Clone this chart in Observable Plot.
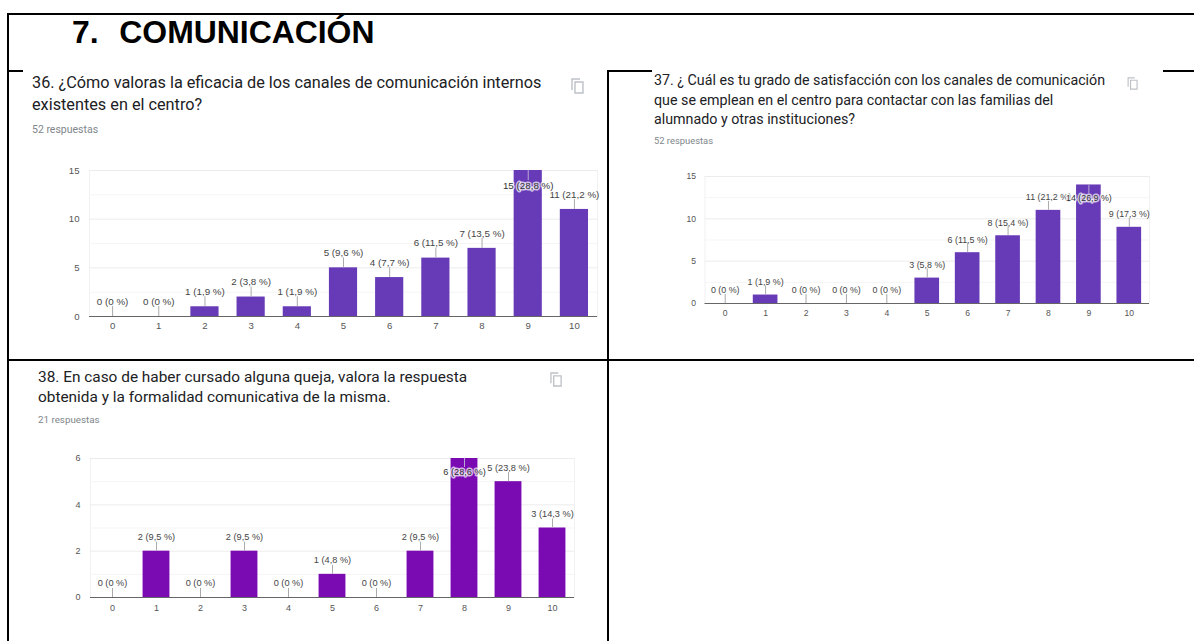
<!DOCTYPE html>
<html lang="es">
<head>
<meta charset="utf-8">
<title>7. Comunicación</title>
<script src="https://cdn.jsdelivr.net/npm/d3@7"></script>
<script src="https://cdn.jsdelivr.net/npm/@observablehq/plot@0.6"></script>
<style>
  html, body { margin: 0; padding: 0; background: #fff; }
  #page { position: relative; width: 1194px; height: 641px; overflow: hidden; background: #fff; }
  .line { position: absolute; background: #000; }
  .t { position: absolute; white-space: nowrap; font-family: Roboto, sans-serif; color: #202124; }
  .sub { color: #80868b; }
  .chart { position: absolute; }
  .chart svg { overflow: visible; display: block; background: transparent; }
  .icon { position: absolute; }
  h1.t { margin: 0; font: bold 31.9px "Liberation Sans", Arial, sans-serif; color: #000; white-space: pre; word-spacing: 1.5px; }
</style>
</head>
<body>
<div id="page">
  <div class="line" style="left:8px;top:13px;width:1186px;height:2px"></div>
  <div class="line" style="left:7px;top:13px;width:2px;height:628px"></div>
  <div class="line" style="left:8px;top:70px;width:15px;height:2px"></div>
  <div class="line" style="left:607px;top:70px;width:45px;height:2px"></div>
  <div class="line" style="left:1163px;top:70px;width:31px;height:2px"></div>
  <div class="line" style="left:607px;top:70px;width:2px;height:571px"></div>
  <div class="line" style="left:8px;top:359px;width:1186px;height:2px"></div>

  <h1 class="t" id="h" style="left:72px;top:14px"></h1>

  <div class="t" style="left:32px;top:72px;font-size:16.25px;line-height:22px" id="q36"></div>
  <div class="t sub" style="left:32px;top:123px;font-size:10.5px" id="r36"></div>
  <div class="t" style="left:654px;top:71px;font-size:14.25px;line-height:19.5px" id="q37"></div>
  <div class="t sub" style="left:654px;top:135px;font-size:9.4px" id="r37"></div>
  <div class="t" style="left:38px;top:367px;font-size:15.4px;line-height:20px" id="q38"></div>
  <div class="t sub" style="left:38px;top:414px;font-size:9.8px" id="r38"></div>

  <svg class="icon" style="left:571px;top:78px" width="14" height="16" viewBox="0 0 14 16"><path d="M1 12V1h8M4 4h8v11H4z" fill="none" stroke="#bdc1c6" stroke-width="1.4"/></svg>
  <svg class="icon" style="left:1127px;top:77px" width="12" height="13" viewBox="0 0 14 16"><path d="M1 12V1h8M4 4h8v11H4z" fill="none" stroke="#bdc1c6" stroke-width="1.4"/></svg>
  <svg class="icon" style="left:550px;top:372px" width="13" height="15" viewBox="0 0 14 16"><path d="M1 12V1h8M4 4h8v11H4z" fill="none" stroke="#bdc1c6" stroke-width="1.4"/></svg>

  <div class="chart" id="c36" style="left:40px;top:160px"></div>
  <div class="chart" id="c37" style="left:665px;top:166px"></div>
  <div class="chart" id="c38" style="left:50px;top:448px"></div>
</div>
<script>
const sectionTitle = "7.  COMUNICACIÓN";
const categories = ["0","1","2","3","4","5","6","7","8","9","10"];

const question36 = "36. ¿Cómo valoras la eficacia de los canales de comunicación internos<br>existentes en el centro?";
const answers36 = "52 respuestas";
const values36 = [0,0,1,2,1,5,4,6,7,15,11];
const percents36 = ["0","0","1,9","3,8","1,9","9,6","7,7","11,5","13,5","28,8","21,2"];
const inside36 = ["9"];
const yTicks36 = [0,5,10,15];
const yMinor36 = [2.5,7.5,12.5];

const question37 = "37. ¿ Cuál es tu grado de satisfacción con los canales de comunicación<br>que se emplean en el centro para contactar con las familias del<br>alumnado y otras instituciones?";
const answers37 = "52 respuestas";
const values37 = [0,1,0,0,0,3,6,8,11,14,9];
const percents37 = ["0","1,9","0","0","0","5,8","11,5","15,4","21,2","26,9","17,3"];
const inside37 = ["9"];
const yTicks37 = [0,5,10,15];
const yMinor37 = [2.5,7.5,12.5];

const question38 = "38. En caso de haber cursado alguna queja, valora la respuesta<br>obtenida y la formalidad comunicativa de la misma.";
const answers38 = "21 respuestas";
const values38 = [0,2,0,2,0,1,0,2,6,5,3];
const percents38 = ["0","9,5","0","9,5","0","4,8","0","9,5","28,6","23,8","14,3"];
const inside38 = ["8"];
const yTicks38 = [0,2,4,6];
const yMinor38 = [1,3,5];

document.getElementById("h").textContent = sectionTitle;
for (const [id, html] of [["q36",question36],["r36",answers36],["q37",question37],["r37",answers37],["q38",question38],["r38",answers38]])
  document.getElementById(id).innerHTML = html;

function chart(o) {
  const rows = categories.map((c, i) => ({
    c, v: o.values[i],
    label: `${o.values[i]} (${o.percents[i]} %)`,
    inside: o.inside.includes(c)
  }));
  const plotH = o.height - o.marginTop - o.marginBottom;
  const top = o.yTicks[o.yTicks.length - 1];
  const lead = top * o.lead / plotH;               // connector length, in data units
  const outside = rows.filter(d => !d.inside);
  const within = rows.filter(d => d.inside);
  const font = {fontFamily: '"Liberation Sans", Arial, sans-serif', fontSize: o.fontSize, fill: "#444"};
  return Plot.plot({
    width: o.width, height: o.height,
    marginLeft: o.marginLeft, marginRight: o.marginRight,
    marginTop: o.marginTop, marginBottom: o.marginBottom,
    style: {background: "transparent", fontFamily: font.fontFamily},
    x: {type: "band", domain: categories, paddingInner: 0.39, paddingOuter: 0.195, round: false, label: null},
    y: {domain: [0, top], label: null},
    marks: [
      Plot.frame({stroke: "#f1f1f1"}),
      Plot.ruleY(o.yMinor, {stroke: "#f5f5f5"}),
      Plot.ruleY(o.yTicks.slice(1), {stroke: "#ececec"}),
      Plot.barY(rows, {x: "c", y: "v", fill: o.color}),
      Plot.ruleX(outside, {x: "c", y1: "v", y2: d => d.v + lead, stroke: "#aaa"}),
      Plot.ruleX(within, {x: "c", y1: "v", y2: d => d.v - lead, stroke: "#b9a9d6"}),
      Plot.ruleY([0], {stroke: "#666", strokeWidth: 1.2}),
      Plot.text(outside, {x: "c", y: "v", text: "label", dy: -o.labelGap, ...font, fontSize: o.labelSize}),
      Plot.text(within, {x: "c", y: "v", text: "label", dy: o.labelGap, ...font, fontSize: o.labelSize,
        fill: "#333", stroke: "#fff", strokeOpacity: 0.7, strokeWidth: 3}),
      Plot.axisX({tickSize: 0, tickPadding: o.xPad, label: null, ...font, fill: "#555"}),
      Plot.axisY({ticks: o.yTicks, tickFormat: "d", tickSize: 0, tickPadding: o.yPad, label: null, ...font, fill: "#555"})
    ]
  });
}

document.getElementById("c36").append(chart({
  values: values36, percents: percents36, inside: inside36, yTicks: yTicks36, yMinor: yMinor36,
  color: "#673ab7", width: 565, height: 180, marginLeft: 49, marginRight: 8, marginTop: 10, marginBottom: 24,
  lead: 10, labelGap: 15, fontSize: 9.6, labelSize: 9.8, yPad: 10, xPad: 6
}));
document.getElementById("c37").append(chart({
  values: values37, percents: percents37, inside: inside37, yTicks: yTicks37, yMinor: yMinor37,
  color: "#673ab7", width: 492, height: 159, marginLeft: 39.5, marginRight: 8, marginTop: 10, marginBottom: 22,
  lead: 9, labelGap: 13, fontSize: 8.6, labelSize: 8.9, yPad: 9, xPad: 6
}));
document.getElementById("c38").append(chart({
  values: values38, percents: percents38, inside: inside38, yTicks: yTicks38, yMinor: yMinor38,
  color: "#7a0bb3", width: 532, height: 175, marginLeft: 40, marginRight: 8, marginTop: 10, marginBottom: 26,
  lead: 9, labelGap: 14, fontSize: 9, labelSize: 9.2, yPad: 10, xPad: 7
}));
</script>
</body>
</html>
